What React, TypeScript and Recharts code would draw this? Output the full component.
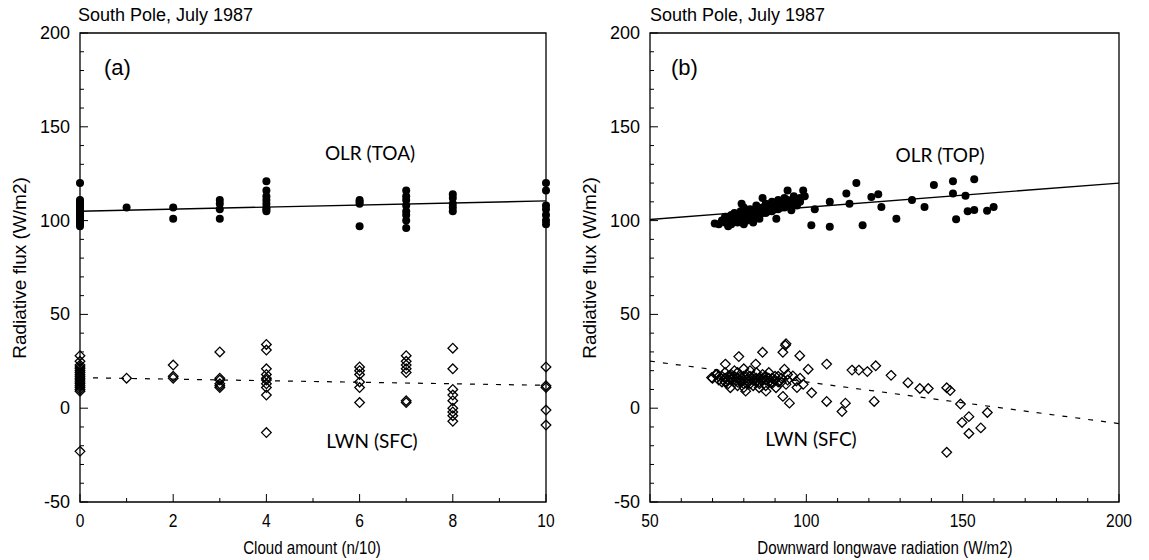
import React from 'react';
import { ScatterChart, Scatter, XAxis, YAxis, ReferenceLine, ReferenceArea } from 'recharts';

// (a) OLR and LWN grouped by cloud amount (tenths)
const cloudAmounts = [0, 1, 2, 3, 4, 6, 7, 8, 10];
const olrByCloud = [
  [120, 111, 110, 109, 108, 107, 106, 105, 104, 103, 102, 101, 100, 99, 98, 97],
  [107],
  [107, 101],
  [111, 109, 106, 101],
  [121, 116, 113, 111, 109, 107, 106, 105],
  [111, 110, 109, 97],
  [116, 113, 111, 108, 105, 103, 100, 96],
  [114, 112, 109, 107, 105],
  [120, 116, 108, 106, 103, 100, 98],
];
const lwnByCloud = [
  [28, 25, 23, 22, 21, 20, 19, 18, 17, 16, 15, 14, 13, 12, 11, 10, 9, -23],
  [16],
  [23, 17, 16],
  [30, 16, 15, 13, 12, 11],
  [34, 31, 21, 18, 16, 15, 13, 11, 7, -13],
  [22, 20, 18, 14, 11, 3],
  [28, 25, 23, 21, 19, 4, 3],
  [32, 21, 10, 7, 4, 0, -2, -4, -7],
  [22, 12, 11, -1, -9],
];
const olrFitA = [{ x: 0, y: 105 }, { x: 10, y: 110.5 }];
const lwnFitA = [{ x: 0, y: 16.3 }, { x: 10, y: 12.2 }];

// (b) OLR (TOP) against downward longwave radiation
const olrDlr = [
  72, 73, 74, 74, 75, 75, 76, 76, 77, 77, 78, 78, 79, 79, 80, 80, 80, 81, 81, 82, 82, 83, 83, 84, 84,
  85, 85, 86, 86, 87, 87, 88, 88, 89, 89, 90, 90, 91, 91, 92, 92, 93, 93, 94, 94, 95, 96, 96, 97, 97, 98,
  74, 76, 77, 78, 79, 80, 81, 82, 83, 84, 85, 86, 87, 88, 89, 90, 91, 92, 93, 94, 95, 96, 97, 98,
  70.7, 79.3, 86, 90.4, 94, 99, 99.5, 95.2, 101.6, 102.7, 107.5, 107.5, 112.8, 116, 113.8, 118, 120.8,
  123, 124, 128.8, 133.8, 137.8, 140.8, 146.9, 146.9, 150.9, 153.7, 147.9, 151.6, 153.7, 157.8, 159.9,
];
const olrTop = [
  98, 100, 99, 102, 97, 101, 103, 98, 100, 104, 99, 102, 101, 105, 98, 103, 107, 100, 104, 102, 106, 99, 104, 103, 108,
  101, 105, 104, 107, 106, 109, 105, 108, 107, 110, 106, 109, 108, 111, 107, 110, 109, 112, 108, 111, 110, 109, 113, 108, 111, 110,
  100, 100, 102, 100, 103, 100, 102, 104, 101, 105, 103, 105, 104, 106, 105, 107, 106, 108, 107, 109, 108, 111, 110, 112,
  98.5, 109, 112, 101, 116, 116, 113, 105.5, 97.5, 106, 110, 96.7, 114.5, 120, 109, 97.5, 112.6,
  114, 107.3, 101, 111, 107.3, 119, 121, 114.5, 113.2, 122, 100.7, 105, 105.7, 105.2, 107.3,
];

// (b) LWN (SFC) against downward longwave radiation
const lwnDlr = [
  70, 71, 72, 73, 73, 74, 74, 75, 75, 76, 76, 77, 77, 78, 78, 78, 79, 79, 80, 80, 80, 81, 81, 82, 82,
  83, 83, 84, 84, 85, 85, 86, 86, 87, 87, 88, 88, 89, 89, 90, 91, 91, 92,
  72, 74, 75, 76, 77, 78, 79, 80, 80, 81, 82, 82, 83, 84, 85, 86, 87, 88, 89, 90, 92, 94,
  69.7, 71.4, 74.1, 75.7, 78.4, 83.8, 86, 80.6, 84.9, 87.1, 90.3, 92.5, 93.3, 93.5, 93, 93.5, 92.5, 94.6,
  97.9, 95.7, 96.8, 99, 100.6, 101.7, 94, 97, 98, 106.5, 106.5, 111.4, 112.5, 114.6, 116.8, 119.5, 122.2,
  121.7, 127.1, 132.5, 136.3, 139, 144.9, 146, 149.3, 149.8, 152, 152, 155.8, 157.9, 144.9,
];
const lwnSfc = [
  16, 18, 15, 17, 14, 16, 19, 13, 17, 15, 18, 14, 20, 12, 16, 19, 14, 17, 11, 15, 21, 13, 18, 15, 20,
  12, 17, 14, 19, 16, 13, 18, 15, 12, 17, 14, 19, 16, 13, 15, 17, 14, 16,
  17, 14, 15, 16, 17, 14, 15, 13, 17, 15, 13, 17, 15, 16, 14, 16, 15, 16, 14, 17, 14, 18,
  16.3, 18.1, 23.5, 10.9, 27.5, 23.5, 29.8, 9.1, 10.9, 9.1, 10.9, 29.8, 33.5, 34.4, 20.8, 12.7, 6.3, 2.7,
  28, 17.2, 14.5, 12.7, 20.8, 8.2, 15, 11, 16, 23.5, 3.6, -1.8, 2.7, 20.3, 20.3, 19.5, 22.6,
  3.6, 17.5, 13.6, 10.5, 10.5, 10.9, 9.4, 2.2, -7.6, -4.5, -13.5, -10.5, -2.3, -23.5,
];
const olrFitB = [{ x: 50, y: 100.6 }, { x: 200, y: 120 }];
const lwnFitB = [{ x: 50, y: 25.1 }, { x: 200, y: -8.2 }];

const yTicks = [-50, -40, -30, -20, -10, 0, 10, 20, 30, 40, 50, 60, 70, 80, 90, 100, 110, 120, 130, 140, 150, 160, 170, 180, 190, 200];
const xTicksA = [0, 1, 2, 3, 4, 5, 6, 7, 8, 9, 10];
const xTicksB = [50, 60, 70, 80, 90, 100, 110, 120, 130, 140, 150, 160, 170, 180, 190, 200];

const olrA = cloudAmounts.flatMap((c, i) => olrByCloud[i].map((v) => ({ x: c, y: v })));
const lwnA = cloudAmounts.flatMap((c, i) => lwnByCloud[i].map((v) => ({ x: c, y: v })));
const olrB = olrDlr.map((d, i) => ({ x: d, y: olrTop[i] }));
const lwnB = lwnDlr.map((d, i) => ({ x: d, y: lwnSfc[i] }));

const tickFont = "'Liberation Sans', Arial, sans-serif";
const labelFont = "Lato, 'Open Sans', sans-serif";

const Dot = (p: any) => <circle cx={p.cx} cy={p.cy} r={4} fill="#000" />;

const Diamond = (p: any) => {
  const s = 4.8;
  return (
    <path
      d={`M${p.cx},${p.cy - s}L${p.cx + s},${p.cy}L${p.cx},${p.cy + s}L${p.cx - s},${p.cy}Z`}
      fill="none"
      stroke="#000"
      strokeWidth={1.3}
    />
  );
};

// ticks point into the frame; only multiples of 50 get a label
const makeYTick = (side: 'left' | 'right') => (props: any) => {
  const { x, y, payload } = props;
  const v = payload.value;
  const major = v % 50 === 0;
  const len = major ? 8 : 4;
  const dir = side === 'left' ? 1 : -1;
  return (
    <g>
      <line x1={x} x2={x + dir * len} y1={y} y2={y} stroke="#000" strokeWidth={1} />
      {side === 'left' && major && (
        <text x={x - 10} y={y} dy={6} textAnchor="end" fontSize={18} fontFamily={tickFont} fill="#000">
          {v}
        </text>
      )}
    </g>
  );
};

const makeXTick = (majorStep: number) => (props: any) => {
  const { x, y, payload } = props;
  const v = payload.value;
  const major = v % majorStep === 0;
  return (
    <g>
      <line x1={x} x2={x} y1={y} y2={y - (major ? 8 : 4)} stroke="#000" strokeWidth={1} />
      {major && (
        <text transform={`translate(${x},${y + 25}) scale(0.82,1)`} textAnchor="middle" fontSize={19} fontFamily={tickFont} fill="#000">
          {v}
        </text>
      )}
    </g>
  );
};

const PANEL_H = 560;
const TOP = 33;
const X_AXIS_H = 40;
const Y_AXIS_W = 60;

const App: React.FC = () => {
  return (
    <div style={{ position: 'absolute', left: 0, top: 0, width: 1149, height: 560, background: '#fff' }}>
      <div style={{ position: 'absolute', left: 0, top: 0 }}>
        <ScatterChart width={575} height={PANEL_H} margin={{ top: TOP, right: 29 - Y_AXIS_W, bottom: 58 - X_AXIS_H, left: 80 - Y_AXIS_W }}>
          <XAxis dataKey="x" type="number" domain={[0, 10]} ticks={xTicksA} interval={0} height={X_AXIS_H}
            tickSize={0} tickMargin={0} axisLine={false} tick={makeXTick(2)} />
          <YAxis dataKey="y" type="number" domain={[-50, 200]} ticks={yTicks} interval={0} width={Y_AXIS_W}
            tickSize={0} tickMargin={0} axisLine={false} tick={makeYTick('left')} />
          <YAxis yAxisId="r" orientation="right" type="number" domain={[-50, 200]} ticks={yTicks} interval={0} width={Y_AXIS_W}
            tickSize={0} tickMargin={0} axisLine={false} tick={makeYTick('right')} />
          <ReferenceArea x1={0} x2={10} y1={-50} y2={200} fill="none" stroke="#000" strokeWidth={1.3} fillOpacity={0} />
          <ReferenceLine segment={olrFitA} stroke="#000" strokeWidth={1.4} />
          <ReferenceLine segment={lwnFitA} stroke="#000" strokeWidth={1.2} strokeDasharray="5 8" />
          <Scatter data={olrA} shape={Dot} isAnimationActive={false} />
          <Scatter data={lwnA} shape={Diamond} isAnimationActive={false} />
        </ScatterChart>
      </div>
      <div style={{ position: 'absolute', left: 575, top: 0 }}>
        <ScatterChart width={574} height={PANEL_H} margin={{ top: TOP, right: 30 - Y_AXIS_W, bottom: 58 - X_AXIS_H, left: 75 - Y_AXIS_W }}>
          <XAxis dataKey="x" type="number" domain={[50, 200]} ticks={xTicksB} interval={0} height={X_AXIS_H}
            tickSize={0} tickMargin={0} axisLine={false} tick={makeXTick(50)} />
          <YAxis dataKey="y" type="number" domain={[-50, 200]} ticks={yTicks} interval={0} width={Y_AXIS_W}
            tickSize={0} tickMargin={0} axisLine={false} tick={makeYTick('left')} />
          <YAxis yAxisId="r" orientation="right" type="number" domain={[-50, 200]} ticks={yTicks} interval={0} width={Y_AXIS_W}
            tickSize={0} tickMargin={0} axisLine={false} tick={makeYTick('right')} />
          <ReferenceArea x1={50} x2={200} y1={-50} y2={200} fill="none" stroke="#000" strokeWidth={1.3} fillOpacity={0} />
          <ReferenceLine segment={olrFitB} stroke="#000" strokeWidth={1.4} />
          <ReferenceLine segment={lwnFitB} stroke="#000" strokeWidth={1.2} strokeDasharray="5 8" />
          <Scatter data={olrB} shape={Dot} isAnimationActive={false} />
          <Scatter data={lwnB} shape={Diamond} isAnimationActive={false} />
        </ScatterChart>
      </div>
      <svg width={1149} height={560} style={{ position: 'absolute', left: 0, top: 0, pointerEvents: 'none' }}>
        <g fontFamily={tickFont} fill="#000">
          <text x={78} y={21} fontSize={18}>South Pole, July 1987</text>
          <text x={650} y={21} fontSize={18}>South Pole, July 1987</text>
          <text x={104} y={75} fontSize={22}>(a)</text>
          <text x={671} y={75} fontSize={22}>(b)</text>
          <text transform="translate(26,268) rotate(-90)" textAnchor="middle" fontSize={19}>Radiative flux  (W/m2)</text>
          <text transform="translate(596,268) rotate(-90)" textAnchor="middle" fontSize={19}>Radiative flux  (W/m2)</text>
          <text transform="translate(312,554) scale(0.84,1)" textAnchor="middle" fontSize={18}>Cloud amount  (n/10)</text>
          <text transform="translate(885,554) scale(0.84,1)" textAnchor="middle" fontSize={18}>Downward longwave radiation  (W/m2)</text>
        </g>
        <g fontFamily={labelFont} fill="#000" fontSize={19} textAnchor="middle">
          <text x={370} y={160}>OLR (TOA)</text>
          <text x={372} y={448}>LWN (SFC)</text>
          <text x={940} y={162}>OLR (TOP)</text>
          <text x={811} y={446}>LWN (SFC)</text>
        </g>
      </svg>
    </div>
  );
};

export default App;
